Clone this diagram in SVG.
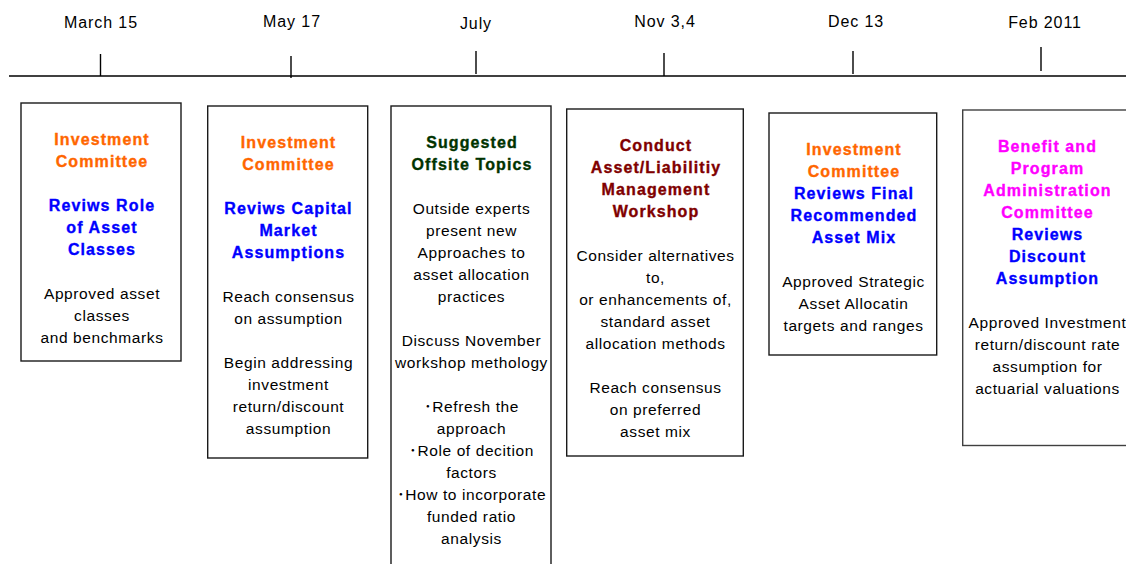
<svg xmlns="http://www.w3.org/2000/svg" width="1126" height="564" viewBox="0 0 1126 564">
  <style>
    .box { fill: #ffffff; stroke: #1a1a1a; stroke-width: 1.4; }
    .axis { stroke: #000000; stroke-width: 1.6; fill: none; }
    .tick { stroke: #000000; stroke-width: 1.4; fill: none; }
    text { font-family: "Liberation Sans", "Noto Sans CJK JP", sans-serif; text-anchor: middle; }
    .date { font-size: 16px; letter-spacing: 0.9px; fill: #000000; }
    .t { font-size: 15.5px; letter-spacing: 0.6px; fill: #000000; }
    .b { font-size: 16px; font-weight: bold; letter-spacing: 1.1px; stroke-width: 0.35px; }
    .orange { fill: #ff6600; stroke: #ff6600; }
    .blue { fill: #0000ff; stroke: #0000ff; }
    .green { fill: #003300; stroke: #003300; }
    .maroon { fill: #800000; stroke: #800000; }
    .magenta { fill: #ff00ff; stroke: #ff00ff; }
  </style>

  <!-- timeline axis with date ticks -->
  <g id="timeline">
    <line class="axis" x1="9" y1="76" x2="1126" y2="76"/>
    <line class="tick" x1="100.5" y1="54" x2="100.5" y2="76"/>
    <line class="tick" x1="291" y1="56" x2="291" y2="78"/>
    <line class="tick" x1="476" y1="51" x2="476" y2="74"/>
    <line class="tick" x1="664" y1="53" x2="664" y2="76"/>
    <line class="tick" x1="853" y1="51" x2="853" y2="74"/>
    <line class="tick" x1="1041" y1="47" x2="1041" y2="71"/>
    <text class="date" x="101" y="28">March 15</text>
    <text class="date" x="292" y="27">May 17</text>
    <text class="date" x="476" y="29">July</text>
    <text class="date" x="665" y="27">Nov 3,4</text>
    <text class="date" x="856" y="27">Dec 13</text>
    <text class="date" x="1045" y="28">Feb 2011</text>
  </g>

  <g id="connectors"/>

  <g id="event-march">
    <rect class="box" x="21" y="103" width="160" height="258"/>
    <text class="b orange"><tspan x="102" y="145">Investment</tspan><tspan x="102" y="167">Committee</tspan></text>
    <text class="b blue"><tspan x="102" y="211">Reviws Role</tspan><tspan x="102" y="233">of Asset</tspan><tspan x="102" y="255">Classes</tspan></text>
    <text class="t"><tspan x="102" y="299">Approved asset</tspan><tspan x="102" y="321">classes</tspan><tspan x="102" y="343">and benchmarks</tspan></text>
  </g>

  <g id="event-may">
    <rect class="box" x="207.7" y="106" width="160" height="352"/>
    <text class="b orange"><tspan x="288.5" y="148">Investment</tspan><tspan x="288.5" y="170">Committee</tspan></text>
    <text class="b blue"><tspan x="288.5" y="214">Reviws Capital</tspan><tspan x="288.5" y="236">Market</tspan><tspan x="288.5" y="258">Assumptions</tspan></text>
    <text class="t"><tspan x="288.5" y="302">Reach consensus</tspan><tspan x="288.5" y="324">on assumption</tspan><tspan x="288.5" y="368">Begin addressing</tspan><tspan x="288.5" y="390">investment</tspan><tspan x="288.5" y="412">return/discount</tspan><tspan x="288.5" y="434">assumption</tspan></text>
  </g>

  <g id="event-july">
    <rect class="box" x="391" y="106" width="160" height="470"/>
    <text class="b green"><tspan x="472" y="148">Suggested</tspan><tspan x="472" y="170">Offsite Topics</tspan></text>
    <text class="t"><tspan x="471.5" y="214">Outside experts</tspan><tspan x="471.5" y="236">present new</tspan><tspan x="471.5" y="258">Approaches to</tspan><tspan x="471.5" y="280">asset allocation</tspan><tspan x="471.5" y="302">practices</tspan><tspan x="471.5" y="346">Discuss November</tspan><tspan x="471.5" y="368">workshop methology</tspan><tspan x="471.5" y="412">･Refresh the</tspan><tspan x="471.5" y="434">approach</tspan><tspan x="471.5" y="456">･Role of decition</tspan><tspan x="471.5" y="478">factors</tspan><tspan x="471.5" y="500">･How to incorporate</tspan><tspan x="471.5" y="522">funded ratio</tspan><tspan x="471.5" y="544">analysis</tspan></text>
  </g>

  <g id="event-nov">
    <rect class="box" x="566.7" y="109" width="176.6" height="347"/>
    <text class="b maroon"><tspan x="656" y="151">Conduct</tspan><tspan x="656" y="173">Asset/Liabilitiy</tspan><tspan x="656" y="195">Management</tspan><tspan x="656" y="217">Workshop</tspan></text>
    <text class="t"><tspan x="655.5" y="261">Consider alternatives</tspan><tspan x="655.5" y="283">to,</tspan><tspan x="655.5" y="305">or enhancements of,</tspan><tspan x="655.5" y="327">standard asset</tspan><tspan x="655.5" y="349">allocation methods</tspan><tspan x="655.5" y="393">Reach consensus</tspan><tspan x="655.5" y="415">on preferred</tspan><tspan x="655.5" y="437">asset mix</tspan></text>
  </g>

  <g id="event-dec">
    <rect class="box" x="769" y="113" width="167.7" height="242"/>
    <text class="b orange"><tspan x="854" y="155">Investment</tspan><tspan x="854" y="177">Committee</tspan></text>
    <text class="b blue"><tspan x="854" y="199">Reviews Final</tspan><tspan x="854" y="221">Recommended</tspan><tspan x="854" y="243">Asset Mix</tspan></text>
    <text class="t"><tspan x="853.5" y="287">Approved Strategic</tspan><tspan x="853.5" y="309">Asset Allocatin</tspan><tspan x="853.5" y="331">targets and ranges</tspan></text>
  </g>

  <g id="event-feb">
    <rect class="box" x="962.7" y="110" width="170" height="335.5" style="stroke:#404040"/>
    <text class="b magenta"><tspan x="1047.5" y="152">Benefit and</tspan><tspan x="1047.5" y="174">Program</tspan><tspan x="1047.5" y="196">Administration</tspan><tspan x="1047.5" y="218">Committee</tspan></text>
    <text class="b blue"><tspan x="1047.5" y="240">Reviews</tspan><tspan x="1047.5" y="262">Discount</tspan><tspan x="1047.5" y="284">Assumption</tspan></text>
    <text class="t"><tspan x="1047.5" y="328">Approved Investment</tspan><tspan x="1047.5" y="350">return/discount rate</tspan><tspan x="1047.5" y="372">assumption for</tspan><tspan x="1047.5" y="394">actuarial valuations</tspan></text>
  </g>
</svg>
